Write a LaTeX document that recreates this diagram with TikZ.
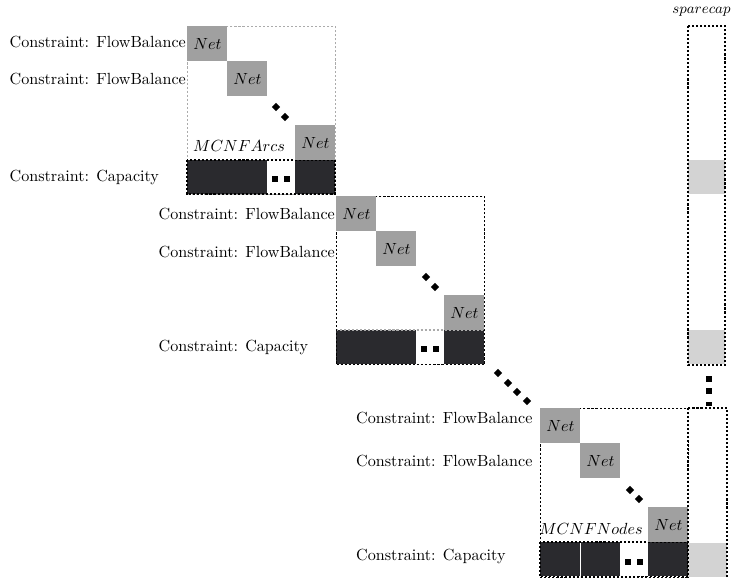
\documentclass[tikz,border=0pt]{standalone}
\usetikzlibrary{positioning, shapes.geometric}
\definecolor{netgray}{HTML}{A0A0A0}
\definecolor{capdark}{HTML}{2A2A2E}
\definecolor{sparegray}{HTML}{D3D3D3}
\definecolor{boxgray}{HTML}{ABABAB}

\begin{document}
\begin{tikzpicture}[x=0.62pt, y=-0.62pt,
    net/.style={fill=netgray, minimum width=24.8pt, minimum height=21.7pt, inner sep=0pt, anchor=north west},
    capblk/.style={fill=capdark, minimum height=21.1pt, inner sep=0pt, anchor=north west},
    spare/.style={fill=sparegray, minimum width=23pt, minimum height=21.1pt, inner sep=0pt, anchor=north west},
    dline/.style={line width=0.8pt, dash pattern=on 1.3pt off 1.2pt},
    blkbox/.style={draw, dline, minimum width=91.8pt, minimum height=104.2pt, inner sep=0pt, anchor=north west},
    dotd/.style={diamond, fill=black, inner sep=0pt, minimum size=5.2pt},
    dots/.style={fill=black, inner sep=0pt, minimum size=3.7pt},
    lbl/.style={inner sep=0pt}]
  \useasboundingbox (0,0) rectangle (732,577);

  % block for the arcs
  \begin{scope}[shift={(187,26)}]
    \node[blkbox, draw=boxgray] (A) at (0,0) {};
    \node[capblk, minimum width=49.6pt] (acap1) at (0,134) {};
    \node[capblk, minimum width=24.8pt] (acap2) at (108,134) {};
    \draw[dline] (0,134) rectangle (148,168);
    \node[net] (a1) at (0,0) {$Net$};
    \node[net] (a2) at (40,35) {$Net$};
    \node[net] (a3) at (108,99) {$Net$};
    \node[dotd] (ad1) at (89,81) {};
    \node[dotd] (ad2) at (98,91) {};
    \node[dots] (as1) at (88,153) {};
    \node[dots] (as2) at (100,153) {};
    \node (aname) at (52,120) {$MCNFArcs$};
  \end{scope}
  \node[lbl, left=0.5pt of a1, yshift=1pt] (afb1) {Constraint: FlowBalance};
  \node[lbl, anchor=west] (afb2) at (afb1.west |- a2) {Constraint: FlowBalance};
  \node[lbl, anchor=west] (acap) at (afb1.west |- acap1) {Constraint: Capacity};

  % middle block
  \begin{scope}[shift={(336,196)}]
    \node[capblk, minimum width=49.6pt] (bcap1) at (0,134) {};
    \node[capblk, minimum width=24.8pt] (bcap2) at (108,134) {};
    \draw[dline, boxgray] (0,134) -- (148,134);
    \node[blkbox] (B) at (0,0) {};
    \node[net] (b1) at (0,0) {$Net$};
    \node[net] (b2) at (40,35) {$Net$};
    \node[net] (b3) at (108,99) {$Net$};
    \node[dotd] (bd1) at (90,81) {};
    \node[dotd] (bd2) at (99,91) {};
    \node[dots] (bs1) at (88,153) {};
    \node[dots] (bs2) at (100,153) {};
  \end{scope}
  \node[lbl, left=0.5pt of b1] (bfb1) {Constraint: FlowBalance};
  \node[lbl, anchor=west, yshift=-2pt] (bfb2) at (bfb1.west |- b2) {Constraint: FlowBalance};
  \node[lbl, anchor=west] (bcap) at (bfb1.west |- bcap1) {Constraint: Capacity};

  % skipped blocks
  \node[dotd] (md1) at (498,373) {};
  \node[dotd] (md2) at (508,383) {};
  \node[dotd] (md3) at (517,392) {};
  \node[dotd] (md4) at (527,401) {};

  % block for the nodes
  \begin{scope}[shift={(540,408)}]
    \node[blkbox] (C) at (0,0) {};
    \node[capblk, minimum width=24.8pt] (ccap1) at (0,134) {};
    \node[capblk, minimum width=24.2pt] (ccap2) at (41,134) {};
    \node[capblk, minimum width=24.8pt] (ccap3) at (108,134) {};
    \draw[dline] (0,134) rectangle (148,170);
    \node[net] (c1) at (0,0) {$Net$};
    \node[net] (c2) at (40,35) {$Net$};
    \node[net] (c3) at (108,99) {$Net$};
    \node[dotd] (cd1) at (90,82) {};
    \node[dotd] (cd2) at (99,91) {};
    \node[dots] (cs1) at (88,154) {};
    \node[dots] (cs2) at (100,154) {};
    \node (cname) at (51,121) {$MCNFNodes$};
  \end{scope}
  \node[lbl, left=4.5pt of c1, yshift=5pt] (cfb1) {Constraint: FlowBalance};
  \node[lbl, anchor=west] (cfb2) at (cfb1.west |- c2) {Constraint: FlowBalance};
  \node[lbl, anchor=west, yshift=2pt] (ccap) at (cfb1.west |- ccap1) {Constraint: Capacity};

  % spare capacity column
  \node[spare] (sp1) at (688,160) {};
  \node[spare] (sp2) at (688,330) {};
  \node[spare, minimum width=24.2pt] (sp3) at (688,543) {};
  \draw[dline] (688,26) rectangle (725,365);
  \draw[dline] (688,408) rectangle (727,590);
  \node[anchor=east, inner sep=0pt, font=\small] (spname) at (731,12) {$sparecap$};
  \node[dots] (vs1) at (709,379) {};
  \node[dots] (vs2) at (709,391) {};
  \node[fill=black, inner sep=0pt, minimum width=3.7pt, minimum height=2.2pt] (vs3) at (709,404) {};
\end{tikzpicture}
\end{document}
